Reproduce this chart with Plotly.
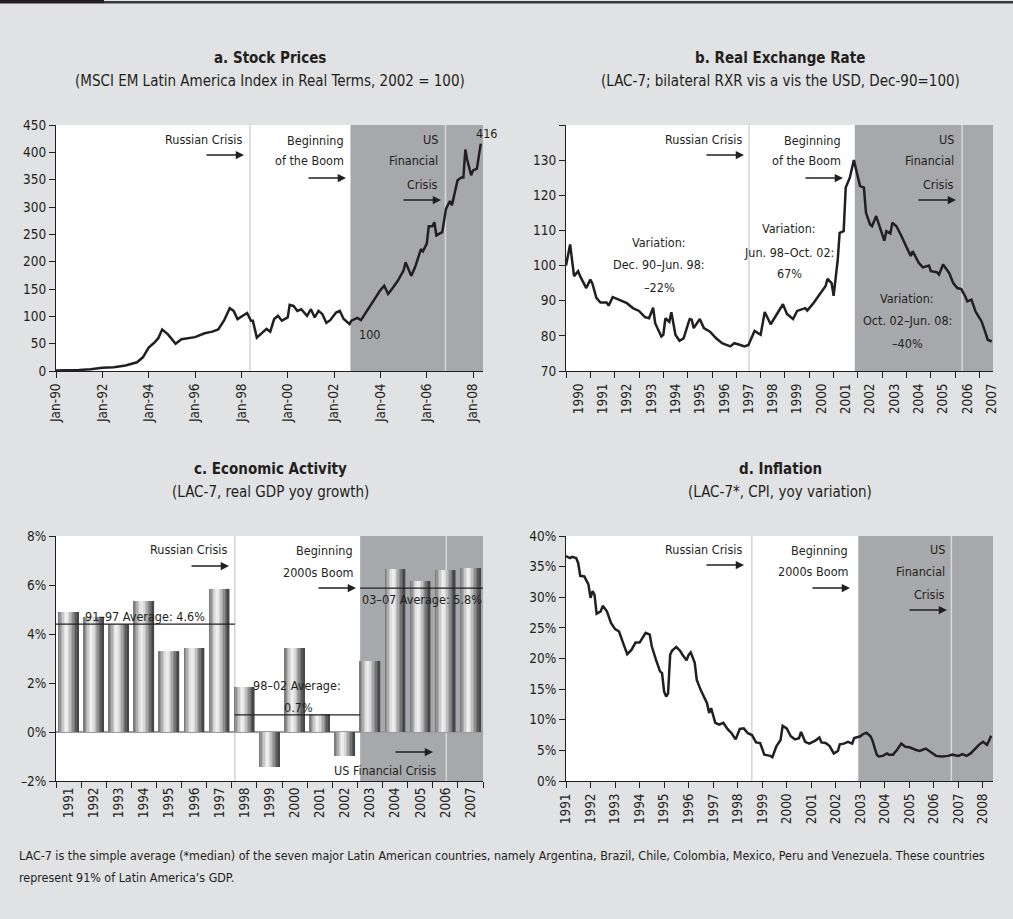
import plotly.graph_objects as go

W, H = 1013, 919
def px(x): return x / W
def py(y): return 1 - y / H

FONT = "Liberation Sans Narrow, DejaVu Sans Condensed, Roboto Condensed, Arial Narrow, Liberation Sans"
INK = "#231f20"
SHADE = "#a7a8ab"
VLINE = "#d4d4d4"

# ---------------- data ----------------
stock_dates = ["1990-01", "1990-07", "1991-01", "1991-07", "1992-01", "1992-07", "1993-01", "1993-07",
               "1993-10", "1994-01", "1994-04", "1994-06", "1994-08", "1994-11", "1995-03", "1995-06",
               "1995-10", "1996-01", "1996-06", "1996-10", "1997-01", "1997-04", "1997-07", "1997-09",
               "1997-11", "1998-02", "1998-04", "1998-06", "1998-07", "1998-09", "1998-11", "1999-02",
               "1999-04", "1999-06", "1999-08", "1999-10", "2000-01", "2000-02", "2000-04", "2000-06",
               "2000-08", "2000-11", "2001-01", "2001-03", "2001-05", "2001-07", "2001-09", "2001-11",
               "2002-02", "2002-04", "2002-06", "2002-09", "2002-10", "2003-01", "2003-03", "2003-05",
               "2003-07", "2003-10", "2004-01", "2004-03", "2004-05", "2004-07", "2004-10", "2005-01",
               "2005-02", "2005-05", "2005-07", "2005-10", "2005-11", "2006-01", "2006-02", "2006-04",
               "2006-05", "2006-06", "2006-09", "2006-11", "2007-01", "2007-02", "2007-05", "2007-07",
               "2007-08", "2007-09", "2007-10", "2007-12", "2008-01", "2008-03", "2008-05"]
stock_values = [1, 1, 2, 3, 6, 7, 10, 16,
                25, 43, 52, 60, 76, 67, 50, 58,
                60, 62, 69, 72, 76, 92, 115, 110,
                95, 101, 106, 92, 92, 61, 67, 77,
                72, 95, 101, 92, 98, 121, 119, 110,
                113, 101, 113, 98, 110, 104, 88, 93,
                107, 110, 95, 86, 92, 97, 93, 104,
                116, 132, 148, 156, 141, 150, 165, 184,
                199, 174, 190, 223, 219, 233, 265, 265,
                272, 248, 254, 297, 311, 303, 349, 354,
                354, 405, 386, 358, 367, 370, 416]

rxr_dates = ["1990-12", "1991-02", "1991-03", "1991-04", "1991-06", "1991-07", "1991-10", "1991-12",
             "1992-01", "1992-03", "1992-05", "1992-08", "1992-09", "1992-11", "1993-02", "1993-06",
             "1993-09", "1993-12", "1994-03", "1994-05", "1994-07", "1994-08", "1994-11", "1994-12",
             "1995-01", "1995-03", "1995-04", "1995-06", "1995-08", "1995-10", "1996-01", "1996-02",
             "1996-03", "1996-06", "1996-08", "1996-11", "1997-02", "1997-05", "1997-09", "1997-11",
             "1998-02", "1998-04", "1998-06", "1998-09", "1998-12", "1999-02", "1999-05", "1999-08",
             "1999-11", "2000-01", "2000-04", "2000-06", "2000-10", "2000-11", "2001-02", "2001-05",
             "2001-08", "2001-09", "2001-11", "2001-12", "2002-02", "2002-03", "2002-05", "2002-06",
             "2002-08", "2002-10", "2002-12", "2003-01", "2003-03", "2003-04", "2003-06", "2003-07",
             "2003-09", "2003-11", "2004-01", "2004-02", "2004-04", "2004-05", "2004-07", "2004-09",
             "2004-11", "2005-02", "2005-03", "2005-06", "2005-08", "2005-11", "2005-12", "2006-03",
             "2006-04", "2006-06", "2006-09", "2006-11", "2007-01", "2007-03", "2007-05", "2007-06",
             "2007-08", "2007-10", "2007-11", "2008-01", "2008-03", "2008-04", "2008-06"]
rxr_values = [100, 106, 101.7, 97, 98.4, 97, 93.6, 96,
              94.9, 90.8, 89.5, 89.5, 88.6, 91, 90.3, 89.3,
              87.9, 87.1, 85.3, 85, 88, 83.6, 79.8, 80.3,
              85, 84, 86.7, 80.3, 78.6, 79.3, 84.8, 84.6,
              82.2, 84.8, 82.2, 81.2, 79.3, 77.9, 77, 77.9,
              77.4, 77, 77.4, 81.4, 80.3, 86.8, 83.3, 86,
              89, 86.2, 84.8, 87.1, 87.9, 87.2, 89.3, 91.7,
              94.1, 96.2, 95, 91.4, 101.7, 109.3, 109.8, 122.2,
              125, 130, 124.6, 122.7, 122.2, 115, 111.7, 111.2,
              114.1, 110.3, 107.1, 109.8, 109.1, 112.2, 111.2, 108.9,
              106.5, 102.7, 104.1, 100.8, 99.5, 100, 98.4, 98.1,
              97.4, 100.3, 97.9, 95, 93.6, 93.3, 91.2, 89.8,
              90.3, 87, 86, 84.1, 80.8, 78.9, 78.4]

gdp_years = ["1991", "1992", "1993", "1994", "1995", "1996", "1997", "1998", "1999",
             "2000", "2001", "2002", "2003", "2004", "2005", "2006", "2007"]
gdp_growth = [4.9, 4.7, 4.4, 5.35, 3.3, 3.43, 5.84, 1.84, -1.43,
              3.43, 0.73, -0.98, 2.9, 6.65, 6.16, 6.61, 6.69]
gdp_avg_levels = [4.4, 0.7, 5.87]          # drawn average lines (91-97, 98-02, 03-07)

infl_dates = ["1991-01", "1991-03", "1991-04", "1991-06", "1991-07", "1991-08", "1991-10", "1991-11",
              "1991-12", "1992-01", "1992-02", "1992-03", "1992-04", "1992-06", "1992-07", "1992-09",
              "1992-11", "1993-01", "1993-03", "1993-05", "1993-07", "1993-09", "1993-11", "1994-01",
              "1994-03", "1994-04", "1994-06", "1994-07", "1994-09", "1994-11", "1994-12", "1995-01",
              "1995-02", "1995-03", "1995-04", "1995-05", "1995-07", "1995-09", "1995-10", "1995-12",
              "1996-01", "1996-02", "1996-04", "1996-05", "1996-07", "1996-10", "1996-11", "1996-12",
              "1997-02", "1997-04", "1997-06", "1997-08", "1997-10", "1997-12", "1998-02", "1998-04",
              "1998-06", "1998-08", "1998-10", "1998-12", "1999-02", "1999-05", "1999-06", "1999-08",
              "1999-10", "1999-11", "2000-01", "2000-03", "2000-05", "2000-07", "2000-08", "2000-10",
              "2000-12", "2001-03", "2001-05", "2001-06", "2001-08", "2001-10", "2001-12", "2002-02",
              "2002-03", "2002-05", "2002-07", "2002-09", "2002-10", "2003-01", "2003-02", "2003-04",
              "2003-06", "2003-07", "2003-09", "2003-10", "2003-12", "2004-02", "2004-03", "2004-05",
              "2004-07", "2004-09", "2004-11", "2005-01", "2005-04", "2005-06", "2005-09", "2005-12",
              "2006-02", "2006-05", "2006-08", "2006-10", "2007-01", "2007-03", "2007-05", "2007-07",
              "2007-09", "2007-11", "2008-01", "2008-03", "2008-04", "2008-05"]
infl_values = [36.7, 36.4, 36.6, 36.4, 35.6, 33.5, 33.4, 32.6,
               32.1, 29.9, 31, 30.4, 27.3, 27.7, 28.6, 27.7,
               25.8, 24.8, 24.4, 22.5, 20.7, 21.4, 22.6, 22.6,
               23.6, 24.2, 23.9, 22, 19.8, 17.9, 17.6, 14.6,
               13.8, 14.3, 20.6, 21.3, 21.9, 21.2, 20.6, 19.7,
               20.6, 21, 19.3, 16.5, 14.8, 12.7, 11.1, 11.9,
               9.5, 9.2, 9.5, 8.5, 7.8, 6.8, 8.5, 8.6,
               7.8, 7.5, 6.3, 6.2, 4.3, 4.1, 3.9, 5.7,
               6.7, 9, 8.6, 7.3, 6.8, 7, 8, 6.4,
               6.1, 6.6, 7.1, 6.3, 6.2, 5.7, 4.5, 4.9,
               6, 6.1, 6.4, 6.1, 7, 7.3, 7.6, 7.9,
               7.3, 6.6, 4.3, 4, 4.1, 4.5, 4.3, 4.3,
               5.1, 6.1, 5.6, 5.5, 5.1, 4.9, 5.3, 4.6,
               4.1, 4.0, 4.1, 4.3, 4.1, 4.4, 4.1, 4.5,
               5.2, 5.9, 6.4, 5.9, 6.6, 7.4]

# event markers per panel: (Russian crisis, start of boom, US financial crisis)
events_a = ["1998-05-17", "2002-09-16", "2006-10-22"]
events_b = ["1998-06-10", "2002-10-15", "2007-03-15"]
events_c = [6.62, 11.61, 15.04]
events_d = ["1998-07-30", "2002-12-01", "2006-09-17"]

range_a = ["1990-01-01", "2008-06-05"]
range_b = ["1990-12-01", "2008-06-20"]
range_c = [-0.5, 16.5]
range_d = ["1991-01-01", "2008-05-29"]

# ---------------- figure ----------------
fig = go.Figure()
line_style = dict(color=INK, width=2.5)
fig.add_trace(go.Scatter(x=stock_dates, y=stock_values, mode="lines", line=line_style, xaxis="x", yaxis="y"))
fig.add_trace(go.Scatter(x=rxr_dates, y=rxr_values, mode="lines", line=line_style, xaxis="x2", yaxis="y2"))
fig.add_trace(go.Scatter(x=infl_dates, y=infl_values, mode="lines", line=line_style, xaxis="x4", yaxis="y4"))

# cylinder-shaded bars: overlay of thin strips
shade_stops = [(0.0, 0x70), (0.12, 0x98), (0.3, 0xdc), (0.42, 0xf4), (0.55, 0xd4), (0.75, 0x8c), (0.9, 0x58), (1.0, 0x3c)]
def shade_at(p):
    for (p0, c0), (p1, c1) in zip(shade_stops[:-1], shade_stops[1:]):
        if p0 <= p <= p1:
            c = round(c0 + (c1 - c0) * (p - p0) / (p1 - p0))
            return f"rgb({c},{c},{c})"
    return "rgb(60,60,60)"
N = 14
bw = 0.8
sw = bw / N
for k in range(N):
    fig.add_trace(go.Bar(x=gdp_years, y=gdp_growth, xaxis="x3", yaxis="y3",
                         width=sw + 0.006, offset=-bw / 2 + k * sw,
                         marker=dict(color=shade_at((k + 0.5) / N), line=dict(width=0))))

tickfont = dict(family=FONT, size=13.5, color=INK)
def xax(dom, anchor, **kw):
    d = dict(domain=dom, anchor=anchor, showgrid=False, zeroline=False, showline=True, linecolor=INK,
             linewidth=1, ticks="outside", ticklen=6, tickcolor=INK, tickfont=tickfont, tickangle=-90,
             automargin=False)
    d.update(kw)
    return d
def yax(dom, anchor, **kw):
    d = dict(domain=dom, anchor=anchor, showgrid=False, zeroline=False, showline=True, linecolor=INK,
             linewidth=1, ticks="outside", ticklen=6, tickcolor=INK, tickfont=tickfont, automargin=False)
    d.update(kw)
    return d

XL = [px(56), px(483)]
XR = [px(566), px(993)]
YT = [py(371), py(125)]
YB = [py(781), py(536)]

fig.update_layout(
    width=W, height=H, margin=dict(l=0, r=0, t=0, b=0, pad=0, autoexpand=False),
    paper_bgcolor="#e1e2e4", plot_bgcolor="white", showlegend=False, barmode="overlay",
    font=dict(family=FONT, color=INK),
    xaxis=xax(XL, "y", type="date", range=range_a, tick0="1990-01-01", dtick="M24", tickformat="%b-%y"),
    yaxis=yax(YT, "x", range=[0, 450], dtick=50),
    xaxis2=xax(XR, "y2", type="date", range=range_b, tick0="1990-12-01", dtick="M12",
               tickformat="%Y", ticklabelmode="period"),
    yaxis2=yax(YT, "x2", range=[70, 140], tickvals=[70, 80, 90, 100, 110, 120, 130, 140],
               ticktext=["70", "80", "90", "100", "110", "120", "130", ""]),
    xaxis3=xax(XL, "y3", type="category", range=range_c, tickson="boundaries"),
    yaxis3=yax(YB, "x3", range=[-2, 8], tickvals=[-2, 0, 2, 4, 6, 8],
               ticktext=["\u20132%", "0%", "2%", "4%", "6%", "8%"],
               zeroline=True, zerolinecolor="#9c9c9c", zerolinewidth=2),
    xaxis4=xax(XR, "y4", type="date", range=range_d, tick0="1991-01-01", dtick="M12", tickformat="%Y"),
    yaxis4=yax(YB, "x4", range=[0, 40], dtick=5, ticksuffix="%"),
)

shapes = []
# top rule
shapes.append(dict(type="rect", xref="paper", yref="paper", x0=0, x1=px(104), y0=py(3.6), y1=1,
                   fillcolor="#231f20", line=dict(width=0)))
shapes.append(dict(type="rect", xref="paper", yref="paper", x0=px(104), x1=1, y0=py(3.6), y1=py(1),
                   fillcolor="#3a3a3a", line=dict(width=0)))

for xr, yr, ev, rng in [("x", "y", events_a, range_a), ("x2", "y2", events_b, range_b),
                        ("x3", "y3", events_c, range_c), ("x4", "y4", events_d, range_d)]:
    shapes.append(dict(type="rect", xref=xr, yref=yr + " domain", x0=ev[1], x1=rng[1], y0=0, y1=1,
                       fillcolor=SHADE, line=dict(width=0), layer="below"))
    for e, col in [(ev[0], VLINE), (ev[2], "#d8d8d8")]:
        shapes.append(dict(type="line", xref=xr, yref=yr + " domain", x0=e, x1=e, y0=0, y1=1,
                           line=dict(color=col, width=1.5), layer="below"))

# average lines on panel c
avg_spans = [(range_c[0], events_c[0]), (events_c[0], events_c[1]), (events_c[1], range_c[1])]
for (a0, a1), lvl in zip(avg_spans, gdp_avg_levels):
    shapes.append(dict(type="line", xref="x3", yref="y3", x0=a0, x1=a1, y0=lvl, y1=lvl,
                       line=dict(color=INK, width=1.2), layer="above"))
fig.update_layout(shapes=shapes)

ann = []
def text(s, x, y, anchor="center", size=12.5, bold=False):
    ann.append(dict(text=f"<b>{s}</b>" if bold else s, x=px(x), y=py(y), xref="paper", yref="paper",
                    xanchor=anchor, yanchor="middle", showarrow=False,
                    font=dict(family=FONT, size=size, color=INK)))
def arrow(x_tip, y, length=39):
    ann.append(dict(text="", x=px(x_tip), y=py(y), xref="paper", yref="paper", showarrow=True,
                    ax=-length, ay=0, arrowhead=2, arrowsize=1.1, arrowwidth=1.5, arrowcolor=INK,
                    standoff=0, startstandoff=0))

# titles
for cx, ty, t, s in [(270, 58, "a. Stock Prices", "(MSCI EM Latin America Index in Real Terms, 2002 = 100)"),
                     (780, 58, "b. Real Exchange Rate", "(LAC-7; bilateral RXR vis a vis the USD, Dec-90=100)"),
                     (270, 469, "c. Economic Activity", "(LAC-7, real GDP yoy growth)"),
                     (780, 469, "d. Inflation", "(LAC-7*, CPI, yoy variation)")]:
    text(t, cx, ty, size=15, bold=True)
    text(s, cx, ty + 23, size=15)

# panel a
text("Russian Crisis", 244, 139, "right"); arrow(244, 155)
text("Beginning", 346, 140, "right"); text("of the Boom", 346, 161, "right"); arrow(346, 178)
text("US", 440, 139, "right"); text("Financial", 440, 161, "right"); text("Crisis", 440, 184, "right"); arrow(441, 200)
text("416", 486, 133); text("100", 369, 334)

# panel b
text("Russian Crisis", 744, 139, "right"); arrow(744, 155)
text("Beginning", 843, 140, "right"); text("of the Boom", 843, 161, "right"); arrow(843, 178)
text("US", 956, 139, "right"); text("Financial", 956, 161, "right"); text("Crisis", 956, 184, "right"); arrow(956, 200)
text("Variation:", 659, 242); text("Dec. 90\u2013Jun. 98:", 659, 264); text("\u201322%", 659, 287)
text("Variation:", 789, 228); text("Jun. 98\u2013Oct. 02:", 789, 252); text("67%", 789, 273)
text("Variation:", 907, 298); text("Oct. 02\u2013Jun. 08:", 907, 321); text("\u201340%", 907, 343)

# panel c
text("Russian Crisis", 229, 549, "right"); arrow(229, 566)
text("Beginning", 355, 550, "right"); text("2000s Boom", 355, 572, "right"); arrow(356, 588)
text("US Financial Crisis", 385, 770); arrow(433, 752)
text("91\u201397 Average: 4.6%", 145, 616)
text("98\u201302 Average:", 297, 685); text("0.7%", 298, 707)
text("03\u201307 Average: 5.8%", 422, 599)

# panel d
text("Russian Crisis", 744, 549, "right"); arrow(744, 565)
text("Beginning", 850, 550, "right"); text("2000s Boom", 850, 571, "right"); arrow(850, 588)
text("US", 947, 549, "right"); text("Financial", 947, 571, "right"); text("Crisis", 947, 594, "right"); arrow(947, 610)

# footnote
text("LAC-7 is the simple average (*median) of the seven major Latin American countries, namely Argentina, Brazil, "
     "Chile, Colombia, Mexico, Peru and Venezuela. These countries", 17, 855, "left", size=12.4)
text("represent 91% of Latin America\u2019s GDP.", 17, 877, "left", size=12.4)

fig.update_layout(annotations=ann)
fig.write_html("out.html",
               post_script="document.body.style.margin='0';document.body.style.overflow='hidden';",
               config={"displayModeBar": False})
